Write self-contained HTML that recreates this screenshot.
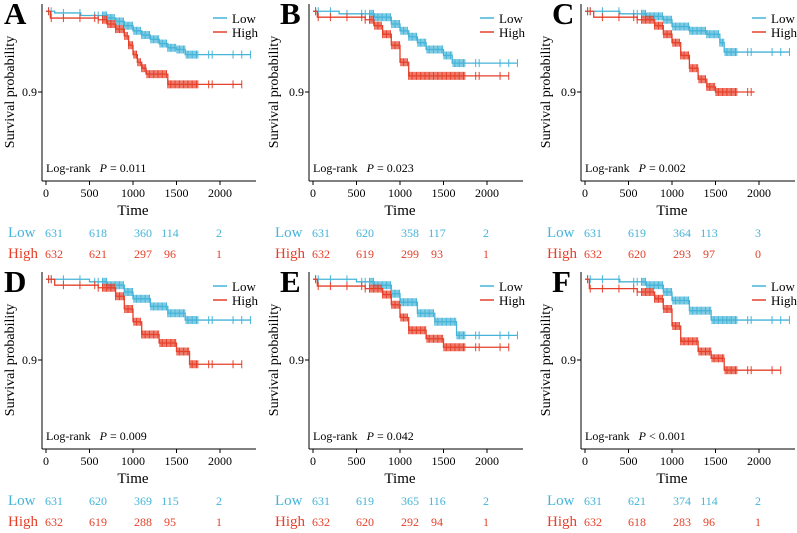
<!DOCTYPE html>
<html><head><meta charset="utf-8"><style>
body{margin:0;background:#fff}
svg{display:block;font-family:"Liberation Serif",serif}
</style></head><body>
<svg id="c" width="797" height="533" viewBox="0 0 797 533"></svg>
<script>
const panelLetters=["A","B","C","D","E","F"];
const pValues=["= 0.011","= 0.023","= 0.002","= 0.009","= 0.042","< 0.001"];
const xTicks=[0,500,1000,1500,2000];
const lowT=[[0,100,400,700,800,900,1000,1100,1200,1300,1400,1500,1600],[0,300,700,900,1000,1100,1200,1300,1500,1600],[0,400,700,900,1000,1200,1400,1550,1600],[0,500,700,900,1000,1200,1400,1600],[0,500,700,900,1000,1200,1400,1650],[0,400,700,900,1000,1200,1450]];
const lowS=[[0.995,0.993,0.990,0.987,0.983,0.978,0.972,0.967,0.962,0.957,0.952,0.950,0.944],[0.995,0.992,0.988,0.980,0.972,0.965,0.958,0.950,0.943,0.934],[0.995,0.992,0.989,0.985,0.977,0.972,0.968,0.958,0.947],[0.995,0.992,0.988,0.980,0.972,0.963,0.955,0.947],[0.995,0.992,0.988,0.978,0.968,0.955,0.945,0.929],[0.995,0.992,0.988,0.980,0.970,0.958,0.947]];
const lowEnd=[2350,2350,2350,2350,2350,2350];
const highT=[[0,50,600,700,800,900,950,1000,1050,1100,1150,1400],[0,50,600,700,800,900,1000,1100],[0,100,600,800,900,1000,1100,1200,1300,1400,1500],[0,100,600,800,900,1000,1100,1300,1500,1650],[0,50,600,800,900,1000,1100,1300,1500],[0,50,600,800,900,1000,1100,1300,1450,1600]];
const highS=[[0.995,0.987,0.985,0.980,0.974,0.966,0.955,0.944,0.935,0.928,0.921,0.909],[0.995,0.988,0.985,0.978,0.968,0.955,0.935,0.919],[0.995,0.988,0.985,0.978,0.968,0.958,0.943,0.928,0.915,0.906,0.900],[0.995,0.988,0.985,0.975,0.960,0.945,0.930,0.920,0.910,0.895],[0.995,0.987,0.984,0.977,0.965,0.950,0.935,0.925,0.915],[0.995,0.984,0.980,0.972,0.960,0.940,0.922,0.910,0.902,0.888]];
const highEnd=[2250,2250,1950,2250,2250,2250];
const censorTimes=[30,60,200,390,560,600,650,665,680,695,710,725,740,755,770,785,800,815,830,845,860,875,890,905,920,935,950,965,980,995,1010,1025,1040,1055,1070,1085,1100,1115,1130,1145,1160,1175,1190,1205,1220,1235,1250,1265,1280,1295,1310,1325,1340,1355,1370,1385,1400,1415,1430,1445,1460,1475,1490,1505,1520,1535,1550,1565,1580,1595,1610,1625,1640,1655,1670,1685,1700,1715,1730,1745,1870,1910,2150,2250,2350];
const riskLow=[[631,618,360,114,2],[631,620,358,117,2],[631,619,364,113,3],[631,620,369,115,2],[631,619,365,116,2],[631,621,374,114,2]];
const riskHigh=[[632,621,297,96,1],[632,619,299,93,1],[632,620,293,97,0],[632,619,288,95,1],[632,620,292,94,1],[632,618,283,96,1]];
const BLUE="#45b4d8",RED="#e6402a";
const NS="http://www.w3.org/2000/svg";
const svg=document.getElementById('c');
function mk(tag,attrs,parent,text){const e=document.createElementNS(NS,tag);for(const k in attrs)e.setAttribute(k,attrs[k]);if(text!==undefined)e.textContent=text;(parent||svg).appendChild(e);return e;}
const riskX=[54,98,143,170,219];
function stepVal(T,S,t){let v=S[0];for(let i=0;i<T.length;i++){if(T[i]<=t)v=S[i];}return v;}
for(let p=0;p<6;p++){
  const col3=p%3;
  const ox=[0,267,539][col3], oy=[0,268][Math.floor(p/3)];
  const X=t=>ox+46+t*0.087, Y=s=>oy+7+(1-s)*850;
  const g=mk('g',{});
  
  
  const L=mk('text',{x:ox+(col3===0?4:13),y:oy+24,'font-size':31,'font-weight':'bold'},g,panelLetters[p]);
  
  const ya=mk('line',{x1:ox+42,y1:oy+4,x2:ox+42,y2:oy+181,stroke:'#000','stroke-width':1},g);
  
  const xa=mk('line',{x1:ox+42,y1:oy+181,x2:ox+256,y2:oy+181,stroke:'#000','stroke-width':1},g);
  
  mk('line',{x1:ox+38,y1:Y(0.9),x2:ox+42,y2:Y(0.9),stroke:'#000'},g);
  const yl=mk('text',{x:ox+37,y:Y(0.9)+4,'font-size':12,'text-anchor':'end'},g,'0.9');
  
  const yt=mk('text',{transform:`translate(${ox+(col3===0?14:11)},${oy+92}) rotate(-90)`,'font-size':14,'text-anchor':'middle'},g,'Survival probability');
  
  xTicks.forEach(t=>{
    mk('line',{x1:X(t),y1:oy+181,x2:X(t),y2:oy+185,stroke:'#000'},g);
    const tl=mk('text',{x:X(t),y:oy+197,'font-size':12,'text-anchor':'middle'},g,String(t));
    
  });
  const xt=mk('text',{x:X(1000),y:oy+215,'font-size':15,'text-anchor':'middle'},g,'Time');
  
  [[lowT[p],lowS[p],lowEnd[p],BLUE,'low'],[highT[p],highS[p],highEnd[p],RED,'high']].forEach(([T,S,end,col,nm])=>{
    let d=`M${X(T[0])},${Y(S[0])}`;
    for(let i=1;i<T.length;i++){d+=` H${X(T[i])} V${Y(S[i])}`;}
    d+=` H${X(end)}`;
    const path=mk('path',{d,fill:'none',stroke:col,'stroke-width':1.3},g);
    
    censorTimes.filter(t=>t<=end).forEach(t=>{
      const y=Y(stepVal(T,S,t));
      const c=mk('line',{x1:X(t),y1:y-4,x2:X(t),y2:y+4,stroke:col,'stroke-width':1},g);
      
    });
  });
  [['Low',BLUE,18],['High',RED,32]].forEach(([lab,col,yy])=>{
    const le=mk('g',{},g);
    
    mk('line',{x1:ox+213,y1:oy+yy,x2:ox+227,y2:oy+yy,stroke:col,'stroke-width':1.5},le);
    mk('text',{x:ox+232,y:oy+yy+5,'font-size':13},le,lab);
  });
  const lr=mk('text',{x:ox+46,y:oy+172,'font-size':12},g);
  
  mk('tspan',{},lr,'Log-rank\u00a0\u00a0\u00a0');
  mk('tspan',{'font-style':'italic'},lr,'P');
  mk('tspan',{},lr,' '+pValues[p]);
  [['Low',riskLow[p],BLUE,237],['High',riskHigh[p],RED,258]].forEach(([lab,vals,col,yy])=>{
    const row=mk('g',{fill:col},g);
    
    mk('text',{x:ox+8,y:oy+yy,'font-size':15},row,lab);
    vals.forEach((v,i)=>mk('text',{x:ox+riskX[i],y:oy+yy,'font-size':12,'text-anchor':'middle'},row,String(v)));
  });
}
</script>
</body></html>
